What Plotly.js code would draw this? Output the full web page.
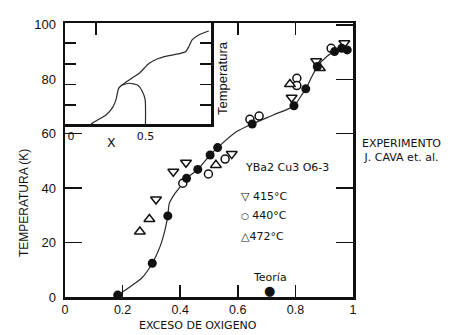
<!DOCTYPE html>
<html>
<head>
<meta charset="utf-8">
<script src="https://cdn.plot.ly/plotly-3.0.1.min.js"></script>
<style>html,body{margin:0;padding:0;background:#fff;}</style>
</head>
<body>
<div id="chart" style="width:461px;height:335px;"></div>
<script>
// Theory curve (smooth line)
const curveX = [0.183,0.226,0.266,0.303,0.330,0.347,0.357,0.362,0.382,0.405,0.422,0.461,0.504,0.530,0.596,0.650,0.723,0.795,0.822,0.836,0.857,0.876,0.909,0.936,0.961,0.980];
const curveY = [0.7,3.8,6.9,12.4,18.5,24.6,29.8,34.4,38.1,41.2,43.6,46.9,52.2,54.9,60.8,63.6,66.9,70.2,74.3,76.4,81.0,84.7,88.4,90.2,91.3,91.0];
// Theory points (filled circles)
const teoriaX = [0.183,0.303,0.357,0.422,0.461,0.504,0.530,0.650,0.795,0.836,0.876,0.936,0.961,0.980];
const teoriaY = [0.7,12.4,29.8,43.6,46.9,52.2,54.9,63.6,70.3,76.5,84.7,90.2,91.4,90.8];
// Experiment J. Cava
const t415X = [0.316,0.376,0.420,0.579,0.787,0.872,0.970];
const t415Y = [35.9,46.1,49.4,52.6,73.3,86.7,93.3];
const t440X = [0.409,0.498,0.556,0.642,0.674,0.805,0.805,0.924];
const t440Y = [41.8,45.2,50.7,65.3,66.5,80.4,77.7,91.4];
const t472X = [0.260,0.293,0.524,0.781,0.885];
const t472Y = [24.0,28.6,48.5,78.2,84.1];
// Inset curve (Temperatura vs X)
const insetX = [0.135,0.158,0.235,0.280,0.302,0.320,0.342,0.391,0.458,0.525,0.591,0.658,0.735,0.769,0.791,0.813,0.858,0.925];
const insetY = [0.08,0.19,0.52,0.89,1.25,1.81,1.97,2.22,2.54,3.03,3.27,3.40,3.51,3.59,3.83,4.16,4.40,4.59];
const branchX = [0.342,0.391,0.447,0.480,0.498,0.500];
const branchY = [1.97,2.06,1.97,1.65,1.25,0.08];
// Tick labels
const xTicks = [0,0.2,0.4,0.6,0.8,1];
const xTickText = ['0','0.2','0.4','0.6','0.8','1'];
const yTicks = [0,20,40,60,80,100];
const yTickText = ['0','20','40','60','80','100'];
const insetXTicks = [0,0.5];
const insetXTickText = ['0','0.5'];
const insetTopTick = [0.167];

const arial = 'Liberation Sans, Arial, sans-serif';
const dv = 'DejaVu Sans, Verdana, sans-serif';
const ink = '#111';

const traces = [
  {x: curveX, y: curveY, mode: 'lines', line: {color: '#2a2a2a', width: 1.2, shape: 'spline', smoothing: 0.6}, xaxis: 'x', yaxis: 'y', hoverinfo: 'skip'},
  {x: t415X, y: t415Y, mode: 'markers', marker: {symbol: 'triangle-down', size: 9.5, color: '#fff', line: {color: ink, width: 1.5}}},
  {x: t440X, y: t440Y, mode: 'markers', marker: {symbol: 'circle', size: 8, color: '#fff', line: {color: ink, width: 1.5}}},
  {x: t472X, y: t472Y, mode: 'markers', marker: {symbol: 'triangle-up', size: 9.5, color: '#fff', line: {color: ink, width: 1.5}}},
  {x: teoriaX, y: teoriaY, mode: 'markers', marker: {symbol: 'circle', size: 9, color: ink, line: {width: 0}}},
  {x: insetX, y: insetY, mode: 'lines', line: {color: '#2a2a2a', width: 1.2, shape: 'spline', smoothing: 0.6}, xaxis: 'x2', yaxis: 'y2'},
  {x: branchX, y: branchY, mode: 'lines', line: {color: '#2a2a2a', width: 1.2, shape: 'spline', smoothing: 0.6}, xaxis: 'x2', yaxis: 'y2'},
  {x: insetTopTick, y: [null], xaxis: 'x3', yaxis: 'y2', mode: 'markers', hoverinfo: 'skip'}
];

const ann = (x, y, text, font, extra) => Object.assign({xref: 'paper', yref: 'paper', x: x, y: y, text: text, showarrow: false, font: font, xanchor: 'center', yanchor: 'middle'}, extra || {});

const layout = {
  width: 461, height: 335,
  margin: {l: 65, r: 108, t: 23, b: 38, pad: 0},
  paper_bgcolor: '#fff', plot_bgcolor: '#fff',
  showlegend: false,
  font: {family: arial, color: ink},
  xaxis: {domain: [0, 1], range: [0, 1], tickvals: xTicks, ticktext: xTickText, ticks: 'inside', ticklen: 12, tickwidth: 1.5, tickcolor: ink,
          showline: true, linewidth: 2.5, linecolor: ink, mirror: 'ticks', showgrid: false, zeroline: false,
          tickfont: {family: arial, size: 12.5, color: ink}, ticklabelstandoff: -1, anchor: 'y'},
  yaxis: {domain: [0, 1], range: [0, 100.7], tickvals: yTicks, ticktext: yTickText, ticks: 'inside', ticklen: 17, tickwidth: 1.5, tickcolor: ink,
          showline: true, linewidth: 2.5, linecolor: ink, mirror: 'ticks', showgrid: false, zeroline: false,
          tickfont: {family: arial, size: 13, color: ink}, ticklabelstandoff: 4, anchor: 'x'},
  xaxis2: {domain: [0, 0.507], range: [-0.04, 0.94], tickvals: insetXTicks, ticktext: insetXTickText, ticks: '',
           showline: true, linewidth: 2.5, linecolor: ink, mirror: true, showgrid: false, zeroline: false,
           tickfont: {family: dv, size: 11, color: ink}, anchor: 'y2'},
  yaxis2: {domain: [0.631, 1], range: [0.078, 4.98], tickvals: [1, 2, 3, 4], ticks: 'inside', ticklen: 11, tickwidth: 1.5, tickcolor: ink,
           showticklabels: false, showline: true, linewidth: 2.5, linecolor: ink, mirror: 'ticks', showgrid: false, zeroline: false, anchor: 'x2'},
  xaxis3: {overlaying: 'x2', anchor: 'y2', side: 'top', range: [-0.04, 0.94], tickvals: insetTopTick, ticks: 'inside', ticklen: 12, tickwidth: 1.5, tickcolor: ink,
           showticklabels: false, showline: false, showgrid: false, zeroline: false},
  annotations: [
    ann(0.462, -0.104, 'EXCESO DE OXIGENO', {family: dv, size: 11, color: ink}),
    ann(-0.142, 0.343, 'TEMPERATURA (K)', {family: arial, size: 12, color: ink}, {textangle: -90}),
    ann(0.545, 0.799, 'Temperatura', {family: arial, size: 13, color: ink}, {textangle: -90}),
    ann(0.163, 0.564, 'X', {family: dv, size: 12.5, color: ink}),
    ann(1.170, 0.535, 'EXPERIMENTO<br>J. CAVA et. al.', {family: dv, size: 11, color: ink}),
    ann(0.618, 0.471, 'YBa2 Cu3 O6-3', {family: dv, size: 11, color: ink}, {xanchor: 'left'}),
    ann(0.604, 0.365, '▽ 415°C', {family: dv, size: 11, color: ink}, {xanchor: 'left'}),
    ann(0.604, 0.296, '<span style="font-size:9px">○</span> 440°C', {family: dv, size: 11, color: ink}, {xanchor: 'left'}),
    ann(0.604, 0.220, '△472°C', {family: dv, size: 11, color: ink}, {xanchor: 'left'}),
    ann(0.712, 0.070, 'Teoría', {family: dv, size: 11, color: ink}),
    ann(0.709, 0.023, '●', {family: dv, size: 13, color: ink})
  ]
};

Plotly.newPlot('chart', traces, layout, {staticPlot: true, displayModeBar: false});
</script>
</body>
</html>
